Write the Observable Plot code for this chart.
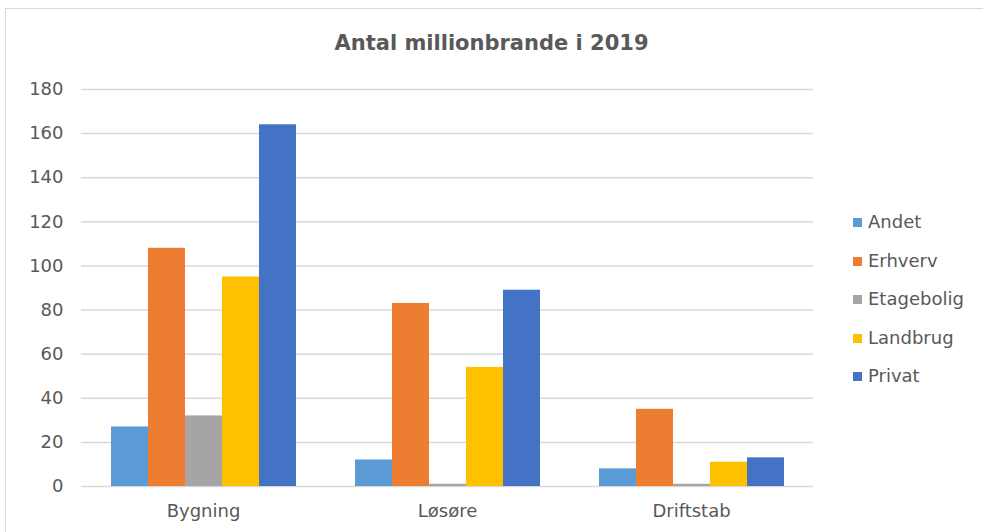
<!DOCTYPE html>
<html>
<head>
<meta charset="utf-8">
<script src="https://cdn.jsdelivr.net/npm/d3@7"></script>
<script src="https://cdn.jsdelivr.net/npm/@observablehq/plot@0.6"></script>
<style>
  html, body { margin: 0; padding: 0; background: #fff; }
  body { width: 983px; height: 532px; overflow: hidden; position: relative; font-family: "DejaVu Sans", Verdana, sans-serif; }
  #frame { position: absolute; left: 5px; top: 8px; width: 1000px; height: 600px; border: 1px solid #d9d9d9; box-sizing: border-box; }
  #chart { position: absolute; left: 0; top: 0; }
  #title { position: absolute; left: 0; width: 983px; top: 30px; text-align: center; font-weight: bold; font-size: 21px; line-height: 26px; color: #595959; }
  #legend { position: absolute; left: 853px; top: 211px; }
  .item { height: 38.5px; display: flex; align-items: flex-start; font-size: 18px; color: #595959; line-height: 22px; }
  .sw { width: 9px; height: 9px; margin-right: 6px; margin-top: 7px; }
</style>
</head>
<body>
<div id="frame"></div>
<div id="chart"></div>
<div id="title">Antal millionbrande i 2019</div>
<div id="legend"></div>
<script>
const categories = ["Bygning", "Løsøre", "Driftstab"];
const series = ["Andet", "Erhverv", "Etagebolig", "Landbrug", "Privat"];
const colors = ["#5B9BD5", "#ED7D31", "#A5A5A5", "#FFC000", "#4472C4"];
const andet = [27, 12, 8];
const erhverv = [108, 83, 35];
const etagebolig = [32, 1, 1];
const landbrug = [95, 54, 11];
const privat = [164, 89, 13];
const yTicks = [0, 20, 40, 60, 80, 100, 120, 140, 160, 180];

const valuesBySeries = [andet, erhverv, etagebolig, landbrug, privat];
const data = [];
categories.forEach((c, ci) => {
  series.forEach((s, si) => {
    data.push({category: c, series: s, value: valuesBySeries[si][ci]});
  });
});

const chart = Plot.plot({
  width: 983,
  height: 532,
  marginLeft: 81,
  marginRight: 170,
  marginTop: 89,
  marginBottom: 46,
  style: {fontFamily: "'DejaVu Sans', Verdana, sans-serif", fontSize: "18px", color: "#595959", background: "transparent"},
  fx: {domain: categories, padding: 0, label: null},
  x: {domain: series, paddingInner: 0, paddingOuter: 0.75, axis: null},
  y: {domain: [0, 180], label: null},
  color: {domain: series, range: colors},
  marks: [
    Plot.gridY(yTicks, {stroke: "#d9d9d9", strokeOpacity: 1, strokeWidth: 1.5}),
    Plot.barY(data, {fx: "category", x: "series", y: "value", fill: "series"}),
    Plot.axisY(yTicks, {tickSize: 0, tickPadding: 18, label: null, fontSize: 18, fill: "#595959"}),
    Plot.axisFx({anchor: "bottom", tickSize: 0, tickPadding: 18, label: null, fontSize: 18, fill: "#595959"})
  ]
});
document.getElementById("chart").appendChild(chart);

const legend = document.getElementById("legend");
series.forEach((s, i) => {
  const item = document.createElement("div");
  item.className = "item";
  const sw = document.createElement("div");
  sw.className = "sw";
  sw.style.background = colors[i];
  const t = document.createElement("span");
  t.textContent = s;
  item.appendChild(sw);
  item.appendChild(t);
  legend.appendChild(item);
});
</script>
</body>
</html>
